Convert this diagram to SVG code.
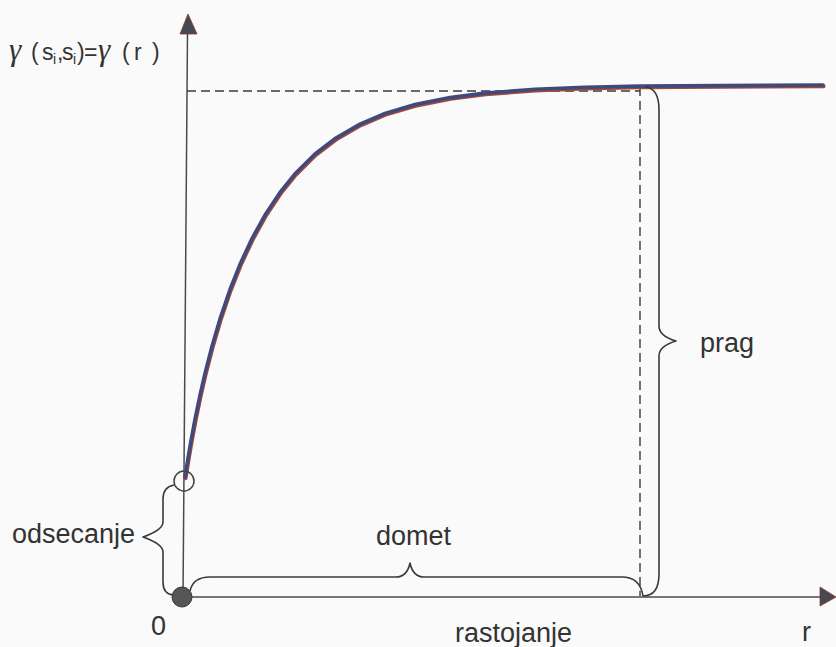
<svg xmlns="http://www.w3.org/2000/svg" width="836" height="647" viewBox="0 0 836 647">
<style>
.axis{stroke:#4a4a4a;stroke-width:1.5;fill:none}
.brace{stroke:#3a3a3a;stroke-width:1.6;fill:none;stroke-linejoin:round}
.dash{stroke:#3a3a3a;stroke-width:1.4;fill:none;stroke-dasharray:9 5}
.lbl{font-family:"Liberation Sans",Arial,sans-serif;font-size:27px;fill:#333}
.head{fill:#474852;stroke:#8a3a30;stroke-width:0.8}
.crv{fill:none;stroke-linejoin:round;stroke-linecap:round}
</style>
<defs>
  <path id="curvePath" d="M185,477 L188,458.2 L191,440.8 L195,419.4 L200,395.2 L205,373.4 L212,346.2 L220,318.9 L230,289.5 L240,264.3 L252,238.6 L265,215 L280,192.4 L295,173.8 L315,154 L335,138.6 L360,124.1 L385,113.5 L415,104.6 L450,97.6 L485,93.1 L535,89.3 L585,87.3 L640,86.1 L823,85"/>
</defs>
<rect width="836" height="647" fill="#fafafa"/>
<g id="connectors">
  <line id="y-axis" class="axis" x1="183" y1="597" x2="187.5" y2="32"/>
  <polygon class="head" points="188,14 180,34 197,34"/>
  <line id="x-axis" class="axis" x1="180" y1="597" x2="821" y2="597"/>
  <polygon class="head" points="836,597 820,587 820,606"/>
  <line class="dash" x1="187" y1="91" x2="640" y2="91"/>
  <line class="dash" x1="640" y1="87" x2="640" y2="596"/>
</g>
<g id="curve">
  <use href="#curvePath" class="crv" stroke="#a5483a" stroke-width="4" transform="translate(0.6,1.2)"/>
  <use href="#curvePath" class="crv" stroke="#3f4a7c" stroke-width="3.6"/>
</g>
<g id="nugget-point">
  <circle cx="184" cy="481" r="10" fill="none" stroke="#444" stroke-width="1.5"/>
</g>
<g id="origin">
  <circle cx="182" cy="597" r="10" fill="#555558" stroke="#3a3a3a" stroke-width="1"/>
  <text class="lbl" x="151" y="635" font-size="25">0</text>
</g>
<g id="odsecanje">
  <path class="brace" d="M174,485 Q163,487 163,499 L163,522 Q163,530 143,537 Q163,544 163,552 L163,582 Q163,594 173,595"/>
  <text class="lbl" x="12" y="543">odsecanje</text>
</g>
<g id="domet">
  <path class="brace" d="M190,591 Q193,577 210,577 L396,577 Q407,577 410,563 Q413,577 424,577 L622,577 Q640,577 643,596"/>
  <text class="lbl" x="376" y="545">domet</text>
</g>
<g id="prag">
  <path class="brace" d="M645,87 Q659,88 659,110 L659,326 Q659,336 676,341 Q659,346 659,356 L659,574 Q659,596 643,596"/>
  <text class="lbl" x="700" y="352">prag</text>
</g>
<g id="rastojanje">
  <text class="lbl" x="455" y="642">rastojanje</text>
  <text class="lbl" x="802" y="641">r</text>
</g>
<g id="y-label" font-family="&quot;Liberation Sans&quot;,Arial,sans-serif" font-size="23" fill="#333">
  <text y="60"><tspan x="9" font-family="&quot;Liberation Serif&quot;,serif" font-style="italic" font-size="31">γ</tspan><tspan x="31">(</tspan><tspan x="42">s</tspan><tspan x="53" y="64" font-size="14">i</tspan><tspan x="57" y="60">,</tspan><tspan x="62">s</tspan><tspan x="73" y="64" font-size="14">i</tspan><tspan x="77" y="60">)</tspan><tspan x="84">=</tspan><tspan x="98" font-family="&quot;Liberation Serif&quot;,serif" font-style="italic" font-size="31">γ</tspan><tspan x="122">(</tspan><tspan x="134">r</tspan><tspan x="152">)</tspan></text>
</g>
</svg>
